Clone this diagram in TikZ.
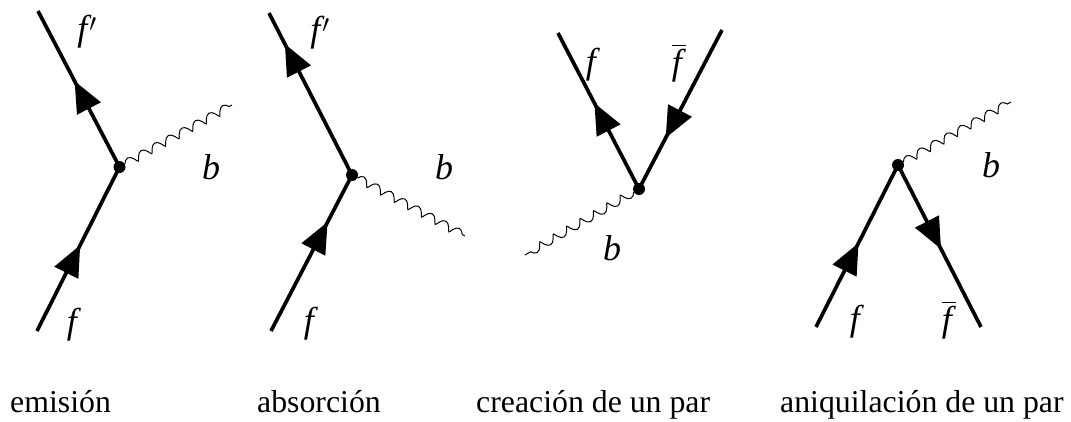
\documentclass[tikz,border=0pt]{standalone}
\usepackage{amsmath}
\usepackage{fontspec}
\setmainfont{Liberation Serif}[ItalicFont={Liberation Serif Italic}]
\usetikzlibrary{arrows.meta, decorations.pathmorphing, decorations.markings, positioning}
\newcommand{\fprim}{\textit{f}\kern-2pt$'$}
\newcommand{\fbar}{$\overline{\mbox{\textit{f}}}$}
\begin{document}
\begin{tikzpicture}[
    x=1pt, y=-1pt,
    fermion/.style={line width=3.7pt},
    arrowmid/.style={postaction={decorate}, decoration={markings, mark=at position #1 with {\arrow{Triangle[length=31pt,width=26pt]}}}},
    boson/.style={line width=1pt, decorate, decoration={coil, aspect=0.35, amplitude=4pt, segment length=15.5pt}},
    vertexdot/.style={circle, fill=black, inner sep=0pt, minimum size=12pt},
    symb/.style={font=\fontsize{36}{36}\selectfont, inner sep=0pt},
    caption/.style={font=\fontsize{31.8}{32}\selectfont, inner sep=0pt, anchor=base west}
]
\useasboundingbox (0,0) rectangle (1071,421);

% emision
\node[vertexdot] (v1) at (119.5,167) {};
\coordinate (a1) at (38,11);
\coordinate (b1) at (37,331);
\coordinate (w1) at (232,105);
\draw[fermion, arrowmid=0.551] (v1.center) -- (a1);
\draw[fermion, arrowmid=0.524] (b1) -- (v1.center);
\draw[boson] (v1) -- (w1);
\node[symb] (fp1) at (87,32) {\fprim};
\node[symb] (f1) at (74,325) {\textit{f}};
\node[symb] (g1) at (211,167) {\textit{b}};

% absorcion
\node[vertexdot] (v2) at (352,175) {};
\coordinate (a2) at (269,13);
\coordinate (b2) at (271,331);
\coordinate (w2) at (465,236);
\draw[fermion, arrowmid=0.809] (v2.center) -- (a2);
\draw[fermion, arrowmid=0.699] (b2) -- (v2.center);
\draw[boson] (v2) -- (w2);
\node[symb] (fp2) at (320,33) {\fprim};
\node[symb] (f2) at (311,324) {\textit{f}};
\node[symb] (g2) at (444,167) {\textit{b}};

% creacion
\node[vertexdot] (v3) at (639,189) {};
\coordinate (a3) at (558,33);
\coordinate (b3) at (722,30);
\coordinate (w3) at (525,255);
\draw[fermion, arrowmid=0.551] (v3.center) -- (a3);
\draw[fermion, arrowmid=0.679] (b3) -- (v3.center);
\draw[boson] (v3) -- (w3);
\node[symb] (f3) at (593,65) {\textit{f}};
\node[symb] (fb3) at (679,63) {\fbar};
\node[symb] (g3) at (612,248) {\textit{b}};

% aniquilacion
\node[vertexdot] (v4) at (898,165) {};
\coordinate (a4) at (816,327);
\coordinate (b4) at (981,327);
\coordinate (w4) at (1011,102);
\draw[fermion, arrowmid=0.519] (a4) -- (v4.center);
\draw[fermion, arrowmid=0.519] (v4.center) -- (b4);
\draw[boson] (v4) -- (w4);
\node[symb] (f4) at (857,322) {\textit{f}};
\node[symb] (fb4) at (949,320) {\fbar};
\node[symb] (g4) at (991,165) {\textit{b}};

% rotulos
\node[caption] (c1) at (10,412) {emisión};
\node[caption] (c2) at (257,412) {absorción};
\node[caption] (c3) at (476,412) {creación de un par};
\node[caption] (c4) at (780,412) {aniquilación de un par};
\end{tikzpicture}
\end{document}
